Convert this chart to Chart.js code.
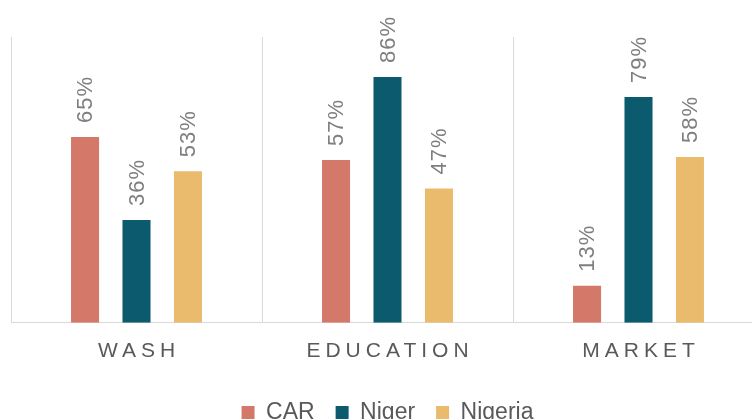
<!DOCTYPE html>
<html>
<head>
<meta charset="utf-8">
<script src="https://cdn.jsdelivr.net/npm/chart.js@4/dist/chart.umd.min.js"></script>
<style>
    html, body { margin: 0; padding: 0; background: #fff; overflow: hidden; }
    #wrap { width: 752px; height: 419px; overflow: hidden; }
    #box { width: 775px; height: 441px; }
</style>
</head>
<body>
<div id="wrap"><div id="box"><canvas id="barChart"></canvas></div></div>
<script>
// 類別與資料
const categories = ['WASH', 'EDUCATION', 'MARKET'];
const carValues = [65, 57, 13];
const nigerValues = [36, 86, 79];
const nigeriaValues = [53, 47, 58];

const colors = {
    car: '#D4796A',
    niger: '#0B5A6D',
    nigeria: '#EBBB6D',
    grid: '#D9D9D9',
    text: '#595959',
    label: '#7F7F7F'
};

const fontFamily = '"Liberation Sans", Arial, sans-serif';

// 柱狀上方的直立百分比標籤
const valueLabels = {
    id: 'valueLabels',
    afterDatasetsDraw(chart) {
        const ctx = chart.ctx;
        ctx.save();
        ctx.font = '22px ' + fontFamily;
        ctx.fillStyle = colors.label;
        ctx.letterSpacing = '1px';
        ctx.textAlign = 'left';
        ctx.textBaseline = 'middle';
        chart.data.datasets.forEach((ds, i) => {
            chart.getDatasetMeta(i).data.forEach((bar, j) => {
                ctx.save();
                ctx.translate(bar.x + 1, bar.y - 14);
                ctx.rotate(-Math.PI / 2);
                ctx.fillText(ds.data[j] + '%', 0, 0);
                ctx.restore();
            });
        });
        ctx.restore();
        // 類別標籤字距（x 軸文字在資料之後繪製）
        ctx.letterSpacing = '5px';
    },
    afterDraw(chart) {
        chart.ctx.letterSpacing = '0px';
    }
};

const barData = {
    labels: categories,
    datasets: [
        { label: 'CAR', data: carValues, backgroundColor: colors.car },
        { label: 'Niger', data: nigerValues, backgroundColor: colors.niger },
        { label: 'Nigeria', data: nigeriaValues, backgroundColor: colors.nigeria }
    ]
};

const barOptions = {
    responsive: true,
    maintainAspectRatio: false,
    animation: false,
    categoryPercentage: 0.615,
    barPercentage: 0.545,
    layout: {
        padding: { left: 11, right: 11, top: 37, bottom: 7 }
    },
    plugins: {
        legend: {
            display: true,
            position: 'bottom',
            labels: {
                color: colors.text,
                font: { size: 23, family: fontFamily },
                boxWidth: 13,
                boxHeight: 13,
                padding: 21
            }
        },
        tooltip: { enabled: false }
    },
    scales: {
        x: {
            grid: {
                color: colors.grid,
                drawTicks: false,
                offset: true
            },
            border: { color: colors.grid },
            ticks: {
                z: 1,
                color: colors.text,
                padding: 16,
                labelOffset: 2.5,
                font: { size: 21, family: fontFamily }
            }
        },
        y: {
            display: false,
            min: 0,
            max: 100
        }
    }
};

const barChart = new Chart(document.getElementById('barChart'), {
    type: 'bar',
    data: barData,
    options: barOptions,
    plugins: [valueLabels]
});
</script>
</body>
</html>
